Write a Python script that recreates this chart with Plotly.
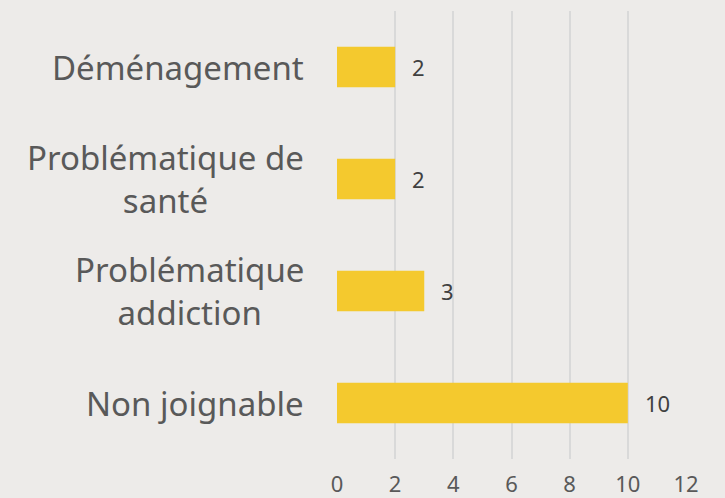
import plotly.graph_objects as go

categories = ["Déménagement", "Problématique de<br>santé", "Problématique<br>addiction", "Non joignable"]
values = [2, 2, 3, 10]
tick_vals = [0, 2, 4, 6, 8, 10, 12]

BG = "#EDEBE9"
FONT = "Noto Sans"

fig = go.Figure()
fig.add_trace(go.Bar(
    y=categories, x=values, orientation="h",
    marker=dict(color="#F4C92E", line=dict(width=0)),
    width=0.36,
    hoverinfo="x+y",
))

for c, v in zip(categories, values):
    fig.add_annotation(
        x=0, xref="paper", y=c, yref="y", xanchor="right", yanchor="middle",
        text=c, showarrow=False, align="center", xshift=-31,
        font=dict(size=33, color="#595959", family=FONT),
    )
    fig.add_annotation(
        x=v, xref="x", y=c, yref="y", xanchor="left", yanchor="middle",
        text=str(v), showarrow=False, xshift=15,
        font=dict(size=22, color="#404040", family=FONT),
    )

fig.update_layout(
    width=725, height=498,
    paper_bgcolor=BG, plot_bgcolor=BG,
    margin=dict(l=337, r=39, t=11, b=39, autoexpand=False),
    showlegend=False,
    font=dict(family=FONT, color="#595959"),
    xaxis=dict(range=[0, 12], tickvals=tick_vals, showgrid=True, gridcolor="#D9D9D9", gridwidth=1.5,
               zeroline=False, showline=False, tickfont=dict(size=22, color="#595959"),
               ticklabelstandoff=10, automargin=False, fixedrange=True),
    yaxis=dict(autorange="reversed", showticklabels=False, showgrid=False, zeroline=False,
               showline=False, automargin=False, fixedrange=True),
)

fig.write_html("out.html", config={"displayModeBar": False},
               post_script="document.body.style.margin='0';document.body.style.background='%s';" % BG)
